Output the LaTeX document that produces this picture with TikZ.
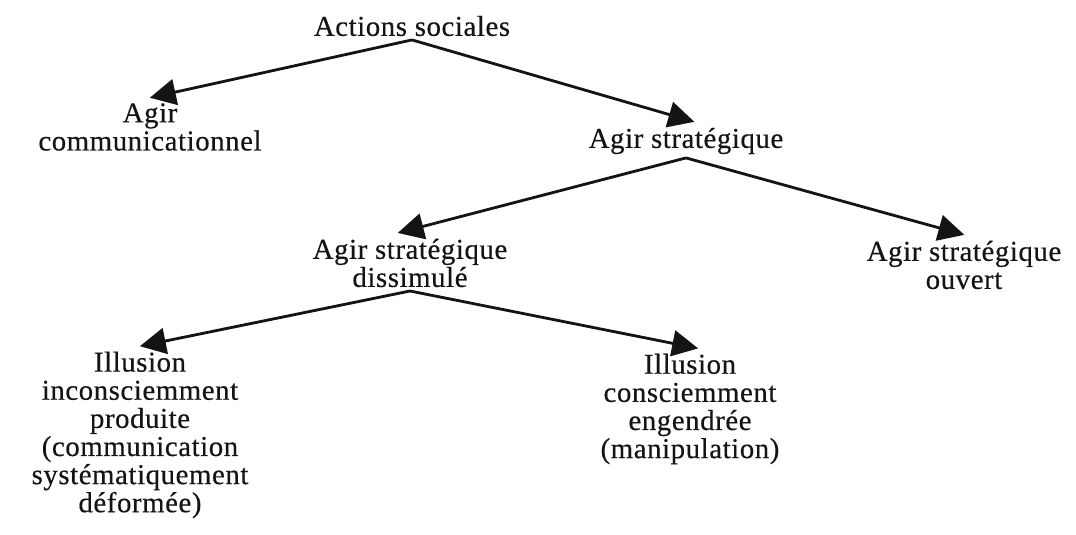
\documentclass[tikz,border=0pt]{standalone}
\usepackage{fontspec}
\setmainfont{Liberation Serif}[LetterSpace=2, FakeBold=0.4]
\definecolor{encre}{HTML}{141414}
\usetikzlibrary{
	arrows.meta,
	positioning
}
\tikzset{
	action/.style={
		align=center,
		inner xsep=1pt,
		inner ysep=2.5pt,
		text=encre,
		font=\fontsize{20.5}{20}\selectfont
	},
	fleche/.style={
		-{Triangle[length=6.5mm, width=6.5mm]},
		line width=2pt,
		encre,
		shorten >=2mm
	}
}

\begin{document}
\begin{tikzpicture}
	\useasboundingbox (0,0) rectangle (26.9,13.375);
	% niveau 1
	\node[action] (racine) at (10.3,12.725) {Actions sociales};
	\node[action] (communic) at (3.75,10.2) {Agir\\communicationnel};
	\node[action] (strategique) at (17.15,9.85) {Agir stratégique};
	% niveau 2
	\node[action] (dissimule) at (10.25,6.8) {Agir stratégique\\dissimulé};
	\node[action] (ouvert) at (24.1,6.75) {Agir stratégique\\ouvert};
	% niveau 3
	\node[action] (inconsc) at (3.5,2.5) {Illusion\\inconsciemment\\produite\\(communication\\systématiquement\\déformée)};
	\node[action] (consc) at (17.25,3.15) {Illusion\\consciemment\\engendrée\\(manipulation)};
	\draw[fleche] (racine.south) -- ([xshift=-2mm]communic.north);
	\draw[fleche] (racine.south) -- ([xshift=4mm]strategique.north);
	\draw[fleche] (strategique.south) -- ([xshift=-5mm]dissimule.north);
	\draw[fleche] (strategique.south) -- ([xshift=2mm]ouvert.north);
	\draw[fleche] (dissimule.south) -- ([xshift=-2mm]inconsc.north);
	\draw[fleche] (dissimule.south) -- ([xshift=4mm]consc.north);
\end{tikzpicture}
\end{document}
